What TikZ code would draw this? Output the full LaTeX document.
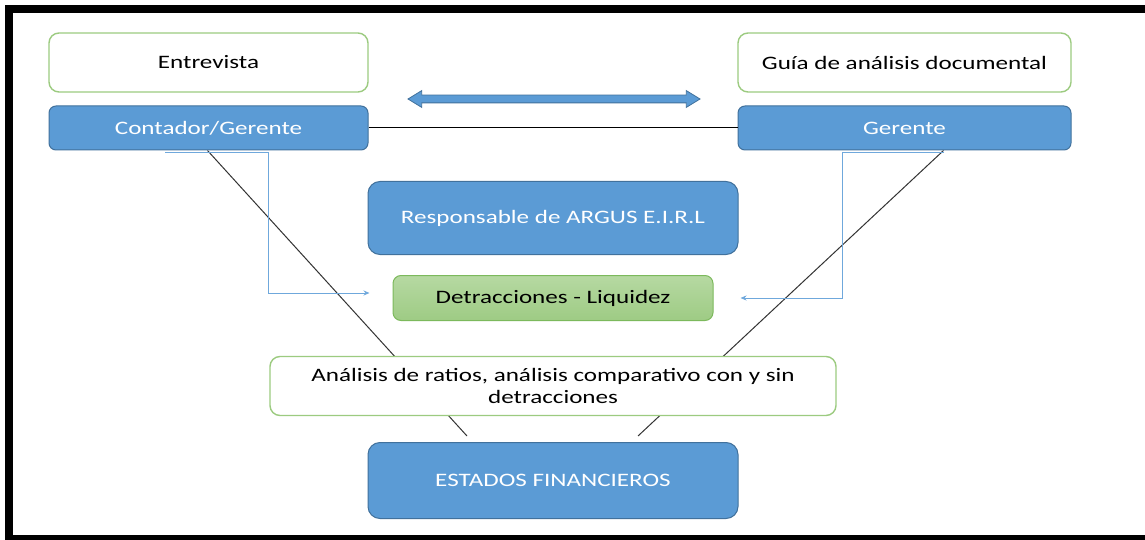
\documentclass[tikz,border=0pt]{standalone}
\usepackage{fontspec}
\setmainfont{Carlito}[FakeStretch=1.32]
\usetikzlibrary{shapes.arrows,arrows.meta,calc}
\pgfdeclarelayer{bg}
\pgfsetlayers{bg,main}
\definecolor{blueF}{HTML}{5B9BD5}
\definecolor{blueD}{HTML}{41719C}
\definecolor{greenB}{HTML}{9CCB80}
\definecolor{greenD}{HTML}{7CB95C}
\definecolor{greenT}{HTML}{B6D9A2}
\definecolor{greenM}{HTML}{9ECB84}
\definecolor{conn}{HTML}{6FA8DC}
\tikzset{
  lbl/.style={font=\fontsize{19}{22}\selectfont, align=center, inner sep=0pt},
  whitebox/.style={lbl, draw=greenB, line width=1.4pt, fill=white, rounded corners=10pt, text=black},
  bluebox/.style={lbl, draw=blueD, line width=1pt, fill=blueF, rounded corners=#1, text=white},
  bluebox/.default=7pt,
  greenbox/.style={lbl, draw=greenD, line width=1pt, top color=greenT, bottom color=greenM, rounded corners=8pt, text=black},
  diag/.style={draw=black!80, line width=1pt},
  linkline/.style={draw=conn, line width=1pt, -{Stealth[length=6pt,width=5pt]}},
  frameband/.style={fill=black, draw=none}
}
\begin{document}
\begin{tikzpicture}[x=1pt,y=-1pt]
\useasboundingbox (0,0) rectangle (1145,540);

% nodes
\node[whitebox, minimum width=319pt, minimum height=59pt] (ent) at (208.5,62.5) {Entrevista};
\node[bluebox, minimum width=319pt, minimum height=44pt] (cg) at (208.5,128) {Contador/Gerente};
\node[whitebox, minimum width=333pt, minimum height=59pt] (gad) at (904.5,62.5) {Guía de análisis documental};
\node[bluebox, minimum width=333pt, minimum height=44pt] (ger) at (904.5,128) {Gerente};
\node[bluebox=12pt, minimum width=370pt, minimum height=73pt] (resp) at (553,218) {Responsable de ARGUS E.I.R.L};
\node[greenbox, minimum width=320pt, minimum height=45pt] (det) at (553,298) {Detracciones - Liquidez};
\node[whitebox, minimum width=566pt, minimum height=59pt] (ana) at (553,386) {Análisis de ratios, análisis comparativo con y sin\\detracciones};
\node[bluebox=12pt, minimum width=370pt, minimum height=76pt] (est) at (553,480.5) {ESTADOS FINANCIEROS};

% double arrow
\node[double arrow, draw=blueD, fill=blueF, line width=0.8pt, minimum height=292pt,
      double arrow head extend=4.5pt, double arrow tip angle=63,
      inner xsep=0pt, inner ysep=3.5pt] (dar) at (554,99) {};

% free ends
\coordinate (lend) at (467,436);
\coordinate (rend) at (638,436);
\coordinate (lstart) at (165,153);
\coordinate (rstart) at (944,153);

\begin{pgfonlayer}{bg}
\fill[white] (0,0) rectangle (1145,540);
\draw[diag] ($(cg.south west)+(159,0)$) -- (lend);
\draw[diag] ($(ger.south west)+(206,0)$) -- (rend);
\end{pgfonlayer}

% frame
\path[frameband] (5,5) rectangle (1145,13);
\path[frameband] (5,5) rectangle (13,540);
\path[frameband] (5,535) rectangle (1145,540);

% horizontal line between top boxes
\draw[line width=1pt, black] (cg.east) -- (ger.west);

% blue connectors
\draw[linkline] (lstart) -- (268,153) -- (268,293) -- ($(det.west)+(-23,-5)$);
\draw[linkline] (rstart) -- (842,153) -- (842,298) -- ($(det.east)+(27,0)$);
\end{tikzpicture}
\end{document}
